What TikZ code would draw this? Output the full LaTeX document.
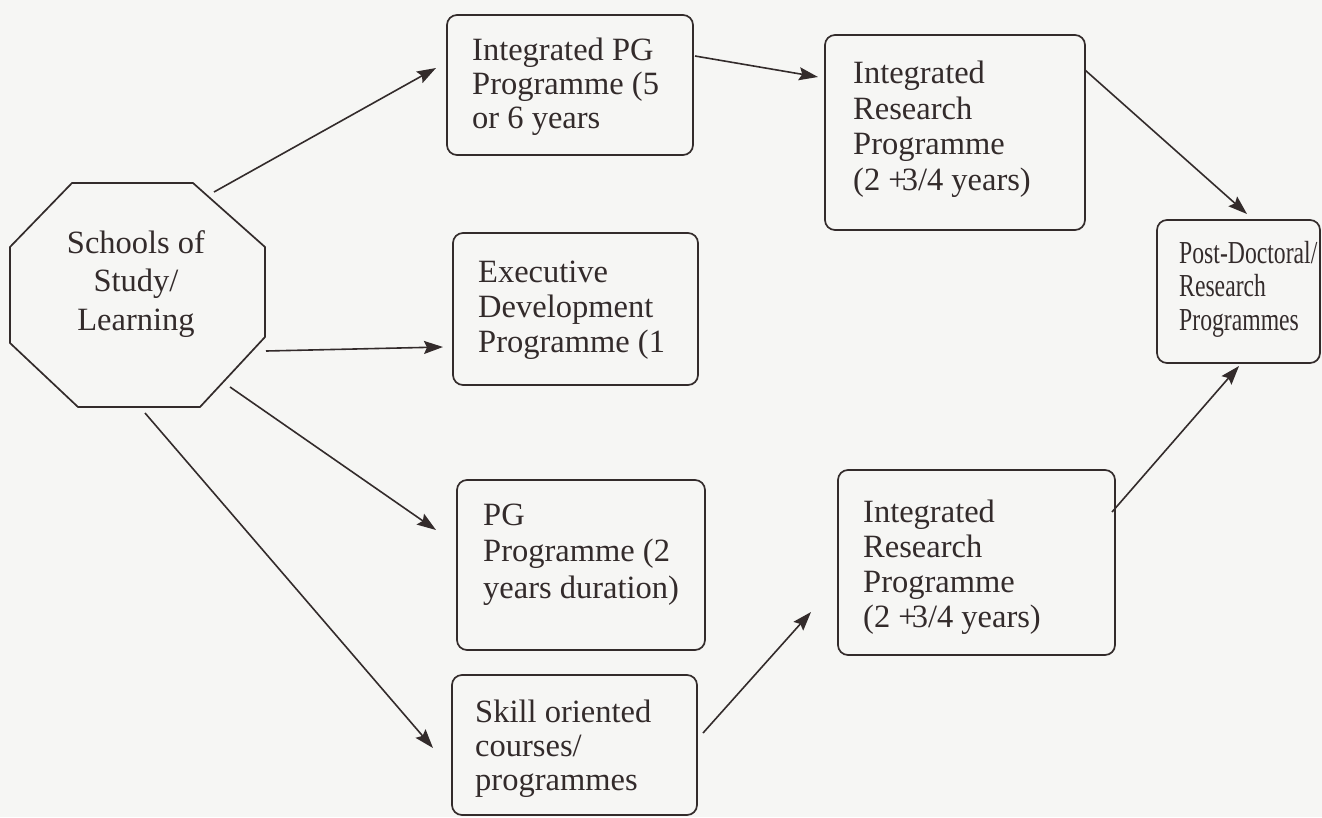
\documentclass[tikz,border=0pt]{standalone}
\usepackage{fontspec}
\setmainfont{Liberation Serif}
\newfontfamily\condserif{Liberation Serif}[FakeStretch=0.74]
\usetikzlibrary{arrows.meta}
\definecolor{ink}{HTML}{332B2B}
\definecolor{paper}{HTML}{F6F6F4}
\begin{document}
\begin{tikzpicture}[x=1pt,y=-1pt,
  box/.style={draw=ink, line width=1.7pt, rounded corners=10pt, inner sep=0pt},
  txt/.style={anchor=base west, inner sep=0pt, align=left, text=ink,
    font=\fontsize{32.5}{35}\selectfont},
  link/.style={draw=ink, line width=1.6pt,
    -{Stealth[length=19pt,width=13pt,inset=3pt]}}]

\fill[paper] (0,0) rectangle (1322,817);
\useasboundingbox (0,0) rectangle (1322,817);

% octagon
\draw[ink, line width=1.7pt] (72,183) -- (193,183) -- (265,247) -- (265,337)
  -- (200,407) -- (78,407) -- (10,343) -- (10,247) -- cycle;
% the base anchor of a multi-line node sits on its last line
\node[anchor=base, inner sep=0pt, align=center, text=ink,
  font=\fontsize{32.5}{38.5}\selectfont] (oct) at (136,330)
  {Schools of\\Study/\\Learning};

% boxes
\node[box, minimum width=246, minimum height=140] (ipg) at (570,85) {};
\node[box, minimum width=260, minimum height=195] (irt) at (955,132.5) {};
\node[box, minimum width=163, minimum height=143] (pd)  at (1238.5,291.5) {};
\node[box, minimum width=245, minimum height=152] (exe) at (575.5,309) {};
\node[box, minimum width=248, minimum height=170] (pg)  at (581,565) {};
\node[box, minimum width=277, minimum height=185] (irb) at (976.5,562.5) {};
\node[box, minimum width=245, minimum height=140] (sk)  at (574.5,745) {};

% box texts, placed by the baseline of their last line
\node[txt, font=\fontsize{32.5}{34}\selectfont] (ipgt) at (472,128)
  {Integrated PG\\Programme (5\\or 6 years};
\node[txt, font=\fontsize{32.5}{35.5}\selectfont] (irtt) at (853,190)
  {Integrated\\Research\\Programme\\(2~+\kern-5pt3/4 years)};
\node[txt, font=\condserif\fontsize{32}{33.5}\selectfont] (pdt) at (1179,330)
  {Post-Doctoral/\\Research\\Programmes};
\node[txt] (exet) at (478,352) {Executive\\Development\\Programme (1};
\node[txt, font=\fontsize{32.5}{36.5}\selectfont] (pgt) at (483,598)
  {PG\\Programme (2\\years duration)};
\node[txt] (irbt) at (863,627)
  {Integrated\\Research\\Programme\\(2~+\kern-5pt3/4 years)};
\node[txt, font=\fontsize{32.5}{34}\selectfont] (skt) at (475,790)
  {Skill oriented\\courses/\\programmes};

% connector end points
\coordinate (o1) at (214,192);
\coordinate (o4) at (266,351);
\coordinate (o5) at (230,387);
\coordinate (o6) at (145,413);
\coordinate (t1) at (436,68);
\coordinate (t4) at (443,347);
\coordinate (t5) at (436,530);
\coordinate (t6) at (433,748);
\coordinate (s2) at (695,56);
\coordinate (t2) at (818,77);
\coordinate (s3) at (1085,70);
\coordinate (t3) at (1247,214);
\coordinate (s7) at (703,733);
\coordinate (t7) at (811,612);
\coordinate (s8) at (1112,512);
\coordinate (t8) at (1239,366);

\draw[link] (o1) -- (t1);
\draw[link] (o4) -- (t4);
\draw[link] (o5) -- (t5);
\draw[link] (o6) -- (t6);
\draw[link] (s2) -- (t2);
\draw[link] (s3) -- (t3);
\draw[link] (s7) -- (t7);
\draw[link] (s8) -- (t8);
\end{tikzpicture}
\end{document}
